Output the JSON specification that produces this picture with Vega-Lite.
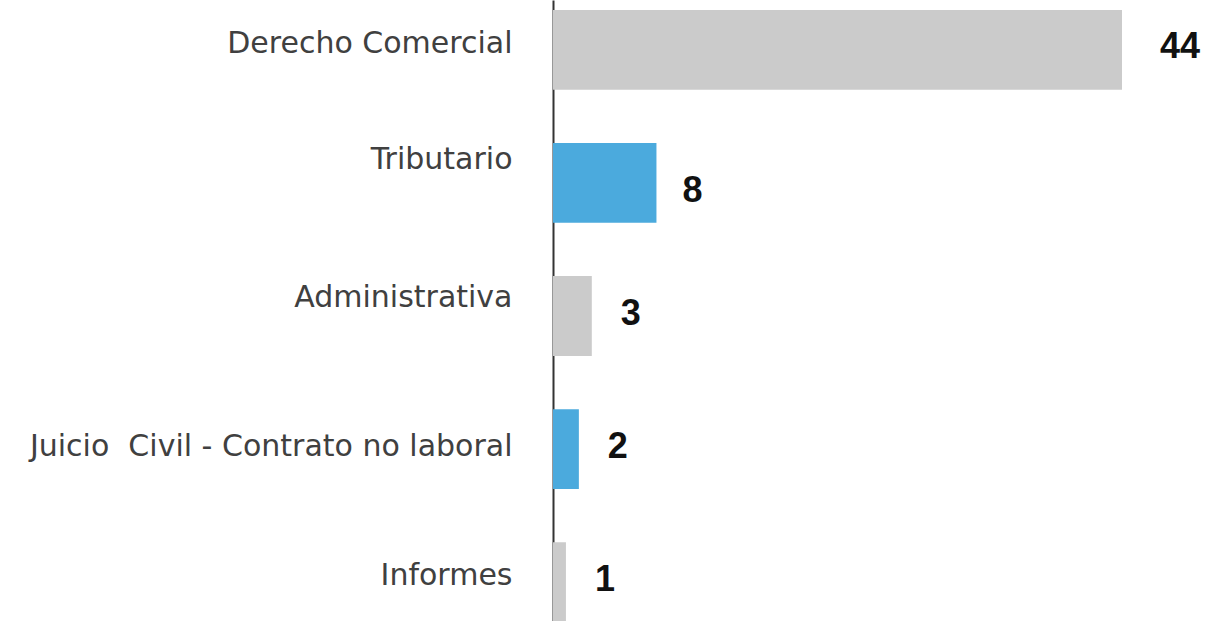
{
  "$schema": "https://vega.github.io/schema/vega-lite/v6.json",
  "width": 569,
  "height": 621,
  "autosize": {"type": "none"},
  "padding": {"left": 553, "top": 0, "right": 85, "bottom": 0},
  "background": "white",
  "config": {"view": {"stroke": null}},
  "data": {
    "values": [
      {"categoria": "Derecho Comercial", "n": 44},
      {"categoria": "Tributario", "n": 8},
      {"categoria": "Administrativa", "n": 3},
      {"categoria": "Juicio \u00a0Civil - Contrato no laboral", "n": 2},
      {"categoria": "Informes", "n": 1}
    ]
  },
  "encoding": {
    "y": {
      "field": "categoria",
      "type": "nominal",
      "sort": null,
      "scale": {"range": [0, 632], "paddingInner": 0.4, "paddingOuter": 0.075},
      "axis": {
        "title": null,
        "ticks": false,
        "domain": true,
        "domainColor": "#333333",
        "domainWidth": 2,
        "labelFont": "DejaVu Sans",
        "labelFontSize": 30,
        "labelColor": "#404040",
        "labelPadding": 41,
        "labelLimit": 600,
        "labelOffset": {
          "condition": [
            {"test": "datum.value == 'Tributario'", "value": -23},
            {"test": "datum.value == 'Administrativa'", "value": -18},
            {"test": "indexof(datum.value, 'Juicio') == 0", "value": -2}
          ],
          "value": -6
        }
      }
    },
    "x": {
      "field": "n",
      "type": "quantitative",
      "scale": {"domain": [0, 44], "nice": false},
      "axis": null
    }
  },
  "layer": [
    {
      "mark": {"type": "bar"},
      "encoding": {
        "color": {
          "condition": {
            "test": "datum.n == 8 || datum.n == 2",
            "value": "#4baadd"
          },
          "value": "#cbcbcb"
        }
      }
    },
    {
      "transform": [{"filter": "datum.n == 44"}],
      "mark": {
        "type": "text",
        "align": "left",
        "baseline": "middle",
        "dx": 38,
        "dy": -3,
        "font": "Liberation Sans",
        "fontWeight": "bold",
        "fontSize": 36,
        "color": "#111111"
      },
      "encoding": {"text": {"field": "n", "type": "quantitative"}}
    },
    {
      "transform": [{"filter": "datum.n == 8"}],
      "mark": {
        "type": "text",
        "align": "left",
        "baseline": "middle",
        "dx": 26,
        "dy": 8,
        "font": "Liberation Sans",
        "fontWeight": "bold",
        "fontSize": 36,
        "color": "#111111"
      },
      "encoding": {"text": {"field": "n", "type": "quantitative"}}
    },
    {
      "transform": [{"filter": "datum.n < 8"}],
      "mark": {
        "type": "text",
        "align": "left",
        "baseline": "middle",
        "dx": 29,
        "dy": -2,
        "font": "Liberation Sans",
        "fontWeight": "bold",
        "fontSize": 36,
        "color": "#111111"
      },
      "encoding": {"text": {"field": "n", "type": "quantitative"}}
    }
  ]
}
